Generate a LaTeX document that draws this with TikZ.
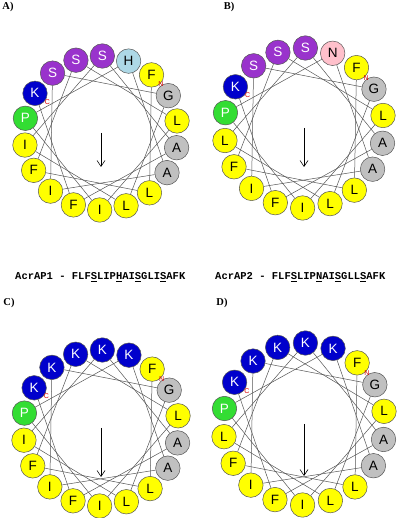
\documentclass[tikz,border=0pt]{standalone}
\usepackage{fontspec}
\setmainfont{Liberation Serif}
\setsansfont{Liberation Sans}
\setmonofont{Liberation Mono}
\usetikzlibrary{calc,arrows.meta}

\definecolor{hphob}{HTML}{FFFF00}
\definecolor{small}{HTML}{C0C0C0}
\definecolor{polar}{HTML}{9933CC}
\definecolor{basic}{HTML}{0000CC}
\definecolor{prol}{HTML}{33DD33}
\definecolor{hist}{HTML}{ADD8E6}
\definecolor{amid}{HTML}{FFC0CB}
\definecolor{rim}{HTML}{555555}

% #1 name, #2 centre, #3 radius, #4 residues, #5 arrow length
\newcommand{\helixwheel}[5]{%
  \coordinate (#1c) at #2;
  \foreach \l [count=\i] in {#4}
    \node[aa, aa \l] (#1\i) at ($(#1c)+({49-100*(\i-1)}:#3pt)$) {\l};
  \foreach \i in {1,...,17}{
    \pgfmathtruncatemacro\j{\i+1}
    \draw[chord] (#1\i) -- (#1\j);
  }
  \node[term] (#1N) at ($(#1c)+(39:#3pt)$) {N};
  \node[term] (#1C) at ($(#1c)+(150:#3pt-15pt)$) {C};
  \coordinate (#1m) at ($(#1c)+(0,-#5pt)$);
  \draw[moment] (#1c) -- (#1m);
}

\begin{document}
\begin{tikzpicture}[x=1pt,y=1pt,
    aa/.style={circle,draw=rim,line width=0.5pt,minimum size=24.5pt,inner sep=0pt,
      font=\sffamily\fontsize{13.5}{13.5}\selectfont},
    chord/.style={draw=rim,line width=0.5pt},
    term/.style={text=red!85!black,font=\sffamily\fontsize{7}{7}\selectfont,inner sep=0pt},
    moment/.style={-{Straight Barb[length=6pt,width=8pt]},line width=0.6pt},
    panel/.style={font=\rmfamily\bfseries\fontsize{10.5}{10.5}\selectfont,inner sep=0pt},
    seq/.style={font=\ttfamily\bfseries\fontsize{10.5}{10.5}\selectfont,inner sep=0pt,anchor=west}]
  \tikzset{
    aa F/.style={fill=hphob}, aa L/.style={fill=hphob}, aa I/.style={fill=hphob},
    aa G/.style={fill=small}, aa A/.style={fill=small},
    aa S/.style={fill=polar,text=white}, aa K/.style={fill=basic,text=white},
    aa P/.style={fill=prol,text=white}, aa H/.style={fill=hist}, aa N/.style={fill=amid}}
  \useasboundingbox[fill=white] (0,0) rectangle (400,518);

  \node[panel] (labA) at (8,511) {A)};
  \node[panel] (labB) at (229,511) {B)};
  \node[panel] (labC) at (9,215) {C)};
  \node[panel] (labD) at (222,215) {D)};

  \helixwheel{A}{(101,385)}{77}{F,L,F,S,L,I,P,H,A,I,S,G,L,I,S,A,F,K}{34}
  \helixwheel{B}{(304,390)}{80}{F,L,F,S,L,I,P,N,A,I,S,G,L,L,S,A,F,K}{39}
  \helixwheel{C}{(101,90)}{78}{F,L,F,K,L,I,P,K,A,I,K,G,L,I,K,A,F,K}{49}
  \helixwheel{D}{(304,94)}{81}{F,L,F,K,L,I,P,K,A,I,K,G,L,L,K,A,F,K}{52}

  \node[seq] (seq1) at (15,241)
    {AcrAP1 - FLF\underline{S}LIP\underline{H}AI\underline{S}GLI\underline{S}AFK};
  \node[seq] (seq2) at (215,241)
    {AcrAP2 - FLF\underline{S}LIP\underline{N}AI\underline{S}GLL\underline{S}AFK};
\end{tikzpicture}
\end{document}
